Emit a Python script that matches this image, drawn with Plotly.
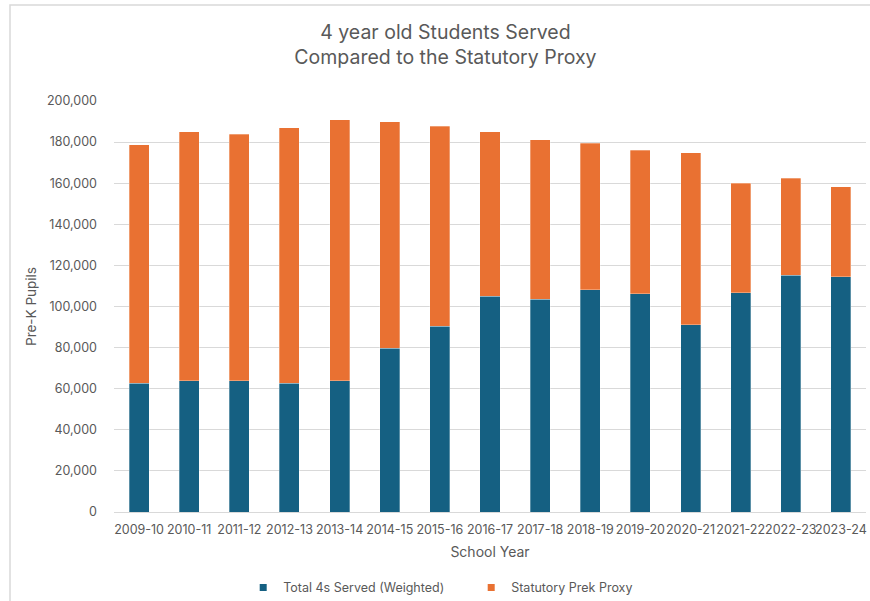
import plotly.graph_objects as go

school_years = ["2009-10", "2010-11", "2011-12", "2012-13", "2013-14", "2014-15", "2015-16",
                "2016-17", "2017-18", "2018-19", "2019-20", "2020-21", "2021-22", "2022-23", "2023-24"]
total_4s_served = [62700, 63800, 63800, 62700, 63800, 79600, 90500,
                   104900, 103600, 108100, 106200, 91200, 106800, 115100, 114500]
statutory_proxy_segment = [115900, 121300, 120000, 124400, 127200, 110200, 97300,
                           80200, 77600, 71300, 69800, 83500, 53200, 47300, 43800]
y_ticks = [0, 20000, 40000, 60000, 80000, 100000, 120000, 140000, 160000, 180000, 200000]

series_names = ["Total 4s Served (Weighted)", "Statutory Prek Proxy"]
series_colors = ["#156082", "#E97132"]

FONT = "Inter"
GREY = "#595959"

fig = go.Figure()
for vals, name, col in zip([total_4s_served, statutory_proxy_segment], series_names, series_colors):
    fig.add_trace(go.Bar(x=school_years, y=vals, name=name, showlegend=False,
                         marker=dict(color=col, line=dict(color="rgba(255,255,255,0.5)", width=0.6))))
# legend-only entries with small square markers
for name, col in zip(series_names, series_colors):
    fig.add_trace(go.Scatter(x=[None], y=[None], mode="markers", name=name,
                             marker=dict(symbol="square", size=7, color=col)))

fig.update_layout(
    barmode="stack",
    bargap=0.6,
    width=870, height=601,
    margin=dict(l=114, r=4, t=101, b=89, autoexpand=False),
    paper_bgcolor="white", plot_bgcolor="white",
    font=dict(family=FONT, color=GREY, size=12),
    title=dict(text="4 year old Students Served<br>Compared to the Statutory Proxy",
               x=0.512, xanchor="center", y=0.935, yanchor="top",
               font=dict(family=FONT, size=19.5, color=GREY)),
    legend=dict(orientation="h", x=0.475, xanchor="center", y=-0.148, yanchor="top",
                font=dict(family=FONT, size=12.5, color=GREY), itemwidth=30,
                traceorder="normal", entrywidth=183),
    showlegend=True,
)
fig.update_xaxes(
    type="category", showgrid=False, showline=True, linecolor="#d9d9d9", linewidth=1,
    ticks="", tickfont=dict(family=FONT, size=12.5, color=GREY), tickangle=0,
    ticklabelstandoff=6,
    title=dict(text="School Year", font=dict(family=FONT, size=14, color=GREY), standoff=11),
)
fig.update_yaxes(
    range=[0, 200000], tickvals=y_ticks, tickformat=",d",
    showgrid=True, gridcolor="#d9d9d9", gridwidth=1, zeroline=False,
    showline=False, ticks="", tickfont=dict(family=FONT, size=12.5, color=GREY),
    ticklabelstandoff=16,
    title=dict(text="Pre-K Pupils", font=dict(family=FONT, size=13.5, color=GREY), standoff=7),
)
fig.add_shape(type="rect", xref="paper", yref="paper",
              x0=-0.1383, x1=1.02, y0=-0.3, y1=1.2336,
              line=dict(color="#d9d9d9", width=1.5), fillcolor="rgba(0,0,0,0)", layer="below")

fig.write_html("out.html")
